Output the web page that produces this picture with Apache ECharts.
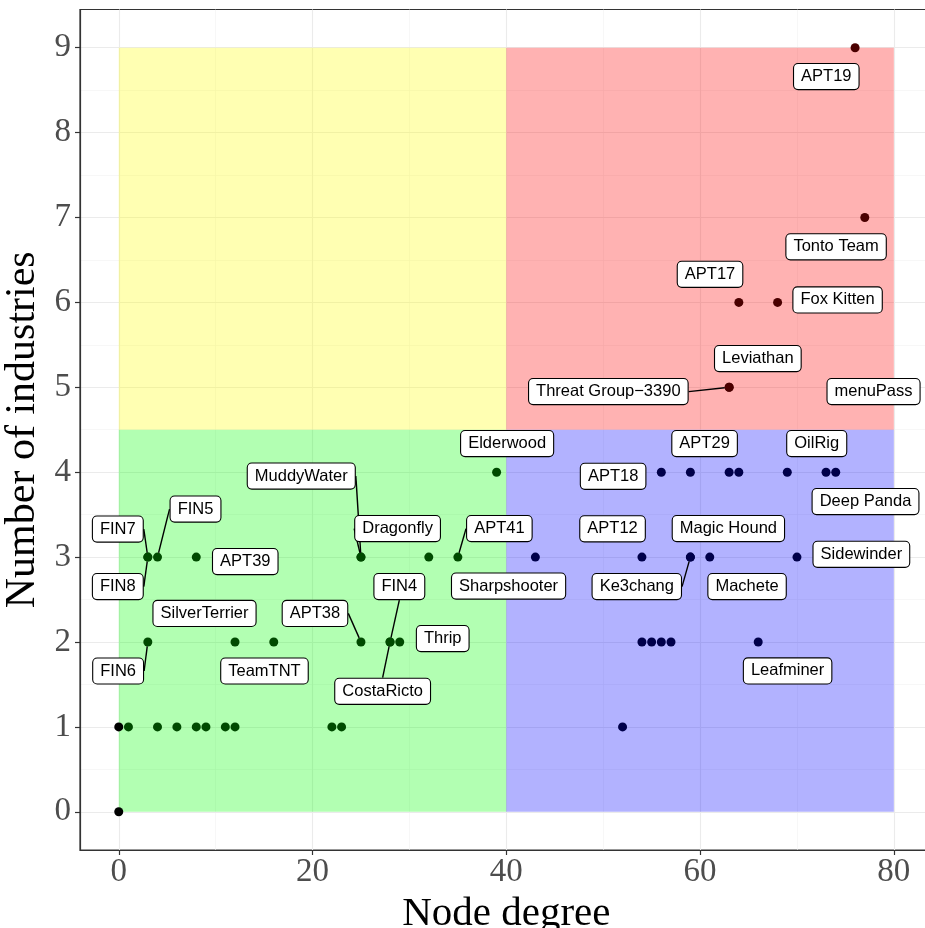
<!DOCTYPE html>
<html>
<head>
<meta charset="utf-8">
<script src="https://cdn.jsdelivr.net/npm/echarts@6/dist/echarts.min.js"></script>
<style>
html,body{margin:0;padding:0;background:#fff;}
#chart{width:925px;height:928px;}
</style>
</head>
<body>
<div id="chart"></div>
<script>
// ---- data ----
const labelledNames = ['FIN7','FIN8','FIN5','APT39','SilverTerrier','TeamTNT','FIN6','APT38','FIN4','CostaRicto','Thrip','MuddyWater','Dragonfly','APT41','Sharpshooter','Elderwood','APT18','APT29','OilRig','Deep Panda','APT12','Magic Hound','Ke3chang','Machete','Sidewinder','Leafminer','APT19','Tonto Team','APT17','Fox Kitten','Leviathan','Threat Group\u22123390','menuPass'];
const labelledDegree = [3,3,4,8,12,16,3,25,28,28,29,25,25,35,43,39,56,59,73,74,54,59,59,61,70,66,76,77,64,68,63,63,80];
const labelledIndustries = [3,3,3,3,2,2,2,2,2,2,2,3,3,3,3,4,4,4,4,4,3,3,3,3,3,2,9,7,6,6,5,5,5];
const otherDegree = [0,0,1,4,6,8,9,11,12,22,23,52,32,54,55,56,57,63,64,69];
const otherIndustries = [0,1,1,1,1,1,1,1,1,1,1,1,3,2,2,2,2,4,4,4];
const xTicks = [0,20,40,60,80];
const xMinorTicks = [10,30,50,70];
const yTicks = [0,1,2,3,4,5,6,7,8,9];
const yMinorTicks = [0.5,1.5,2.5,3.5,4.5,5.5,6.5,7.5,8.5];
const degreeSplit = 40, industrySplit = 4.5, degreeMax = 80, industryMax = 9;

// ---- label placement (pixel offsets of label centre from point) ----
const labelOffset = {
  'FIN7':[-30,-28],'FIN8':[-30,29.5],'FIN5':[38,-48],'APT39':[49,4.5],'SilverTerrier':[-30.5,-28.6],
  'TeamTNT':[-9.3,29],'FIN6':[-29.7,29],'APT38':[-46,-28.6],'FIN4':[9.3,-55.4],'CostaRicto':[-7.4,49.3],
  'Thrip':[43,-3.4],'MuddyWater':[-59.7,-81],'Dragonfly':[36.6,-28.5],'APT41':[41.5,-28.5],
  'Sharpshooter':[-26.8,29],'Elderwood':[10.5,-28.6],'APT18':[-48.2,4.1],'APT29':[14.2,-28.6],
  'OilRig':[-9.3,-28.6],'Deep Panda':[29.8,29.4],'APT12':[-29.4,-28.3],'Magic Hound':[38,-28.5],
  'Ke3chang':[-53.6,29.5],'Machete':[37.3,29.5],'Sidewinder':[64.4,-2.8],'Leafminer':[29.4,28.9],
  'APT19':[-28.8,28.9],'Tonto Team':[-28.7,29.3],'APT17':[-28.8,-28.1],'Fox Kitten':[60,-2.5],
  'Leviathan':[28.7,-28.7],'Threat Group\u22123390':[-120.8,4.3],'menuPass':[-20.3,4.3]
};
const withSegment = ['FIN7','FIN8','FIN5','FIN6','APT38','FIN4','CostaRicto','MuddyWater','Dragonfly','APT41','Ke3chang','Threat Group\u22123390'];

function pointColor(x, y) {
  if (x === 0) return '#000000';
  if (x < degreeSplit) return '#004a00';
  if (y < industrySplit) return '#00004a';
  return '#4a0000';
}

const allPoints = [];
otherDegree.forEach((x, i) => allPoints.push([x, otherIndustries[i]]));
labelledDegree.forEach((x, i) => allPoints.push([x, labelledIndustries[i]]));

const serif = 'Liberation Serif';
const sans = 'Liberation Sans';

const chart = echarts.init(document.getElementById('chart'), null, {renderer: 'canvas'});
const gridLineStyleMajor = {color: '#EBEBEB', width: 1.1, type: 'solid'};
const gridLineStyleMinor = {color: '#F2F2F2', width: 0.6, type: 'solid'};

const option = {
  animation: false,
  backgroundColor: '#ffffff',
  grid: {left: 80, top: 9.5, right: -7.6, bottom: 78, show: true, borderColor: '#333333', borderWidth: 1.2, backgroundColor: 'rgba(0,0,0,0)', containLabel: false, outerBoundsMode: 'none'},
  xAxis: {
    type: 'value', min: -4, max: 84, z: 10,
    name: 'Node degree', nameLocation: 'middle', nameGap: 36,
    nameTextStyle: {fontFamily: serif, fontSize: 41, color: '#000'},
    axisLine: {show: true, onZero: false, lineStyle: {color: '#333333', width: 1.2}},
    axisTick: {show: true, length: 5, customValues: xTicks, lineStyle: {color: '#333333', width: 1.2}},
    axisLabel: {customValues: xTicks, fontFamily: serif, fontSize: 33, color: '#4D4D4D', margin: 6},
    splitLine: {show: false}
  },
  yAxis: {
    type: 'value', min: -0.45, max: 9.45, z: 10,
    name: 'Number of industries', nameLocation: 'middle', nameGap: 23,
    nameTextStyle: {fontFamily: serif, fontSize: 42, color: '#000'},
    axisLine: {show: true, onZero: false, lineStyle: {color: '#333333', width: 1.2}},
    axisTick: {show: true, length: 5, customValues: yTicks, lineStyle: {color: '#333333', width: 1.2}},
    axisLabel: {customValues: yTicks, fontFamily: serif, fontSize: 33, color: '#4D4D4D', margin: 9},
    splitLine: {show: false}
  },
  series: [
    {
      type: 'line', data: [], z: 1, silent: true,
      markLine: {
        z: 1, silent: true, symbol: 'none', label: {show: false}, animation: false,
        data: [].concat(
          xMinorTicks.map(v => ({xAxis: v, lineStyle: gridLineStyleMinor})),
          yMinorTicks.map(v => ({yAxis: v, lineStyle: gridLineStyleMinor})),
          xTicks.map(v => ({xAxis: v, lineStyle: gridLineStyleMajor})),
          yTicks.map(v => ({yAxis: v, lineStyle: gridLineStyleMajor}))
        )
      }
    },
    {
      type: 'scatter', data: [], z: 2, silent: true,
      markArea: {
        z: 2, silent: true, label: {show: false},
        data: [
          [{xAxis: 0, yAxis: industrySplit, itemStyle: {color: 'rgba(255,255,0,0.3)'}}, {xAxis: degreeSplit, yAxis: industryMax}],
          [{xAxis: degreeSplit, yAxis: industrySplit, itemStyle: {color: 'rgba(255,0,0,0.3)'}}, {xAxis: degreeMax, yAxis: industryMax}],
          [{xAxis: 0, yAxis: 0, itemStyle: {color: 'rgba(0,255,0,0.3)'}}, {xAxis: degreeSplit, yAxis: industrySplit}],
          [{xAxis: degreeSplit, yAxis: 0, itemStyle: {color: 'rgba(0,0,255,0.3)'}}, {xAxis: degreeMax, yAxis: industrySplit}]
        ]
      }
    },
    {
      type: 'scatter', z: 3, symbol: 'circle', symbolSize: 9, silent: true,
      itemStyle: {opacity: 1},
      data: allPoints.map(p => ({value: p, itemStyle: {color: pointColor(p[0], p[1]), opacity: 1}}))
    },
    {
      type: 'scatter', z: 4, symbol: 'circle', symbolSize: 9, silent: true,
      itemStyle: {color: 'rgba(0,0,0,0)', opacity: 1},
      label: {
        show: true, position: 'inside', formatter: p => p.name,
        fontFamily: sans, fontSize: 16.5, lineHeight: 17, color: '#000',
        backgroundColor: '#ffffff', borderColor: '#000000', borderWidth: 1.1, borderRadius: 4,
        padding: [4, 7, 4, 7], align: 'center', verticalAlign: 'middle'
      },
      labelLine: {show: true, lineStyle: {color: '#000', width: 1.4, opacity: 1}},
      labelLayout: function (params) {
        const name = labelledNames[params.dataIndex];
        const off = labelOffset[name] || [0, 0];
        return {dx: off[0], dy: off[1]};
      },
      data: labelledNames.map((n, i) => ({
        name: n,
        value: [labelledDegree[i], labelledIndustries[i]],
        labelLine: {show: withSegment.indexOf(n) >= 0}
      }))
    }
  ]
};
chart.setOption(option);
</script>
</body>
</html>
